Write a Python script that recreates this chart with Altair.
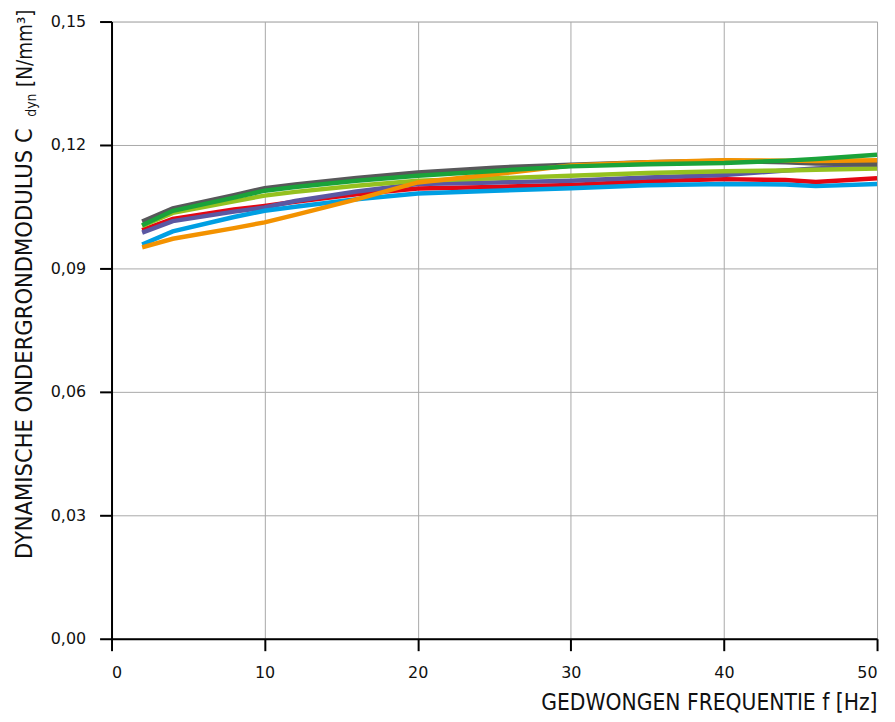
import altair as alt
import pandas as pd

freq = [2, 4, 8, 10, 12, 16, 20, 25, 30, 35, 40, 44, 46, 50]

gray   = [0.1014, 0.1046, 0.1078, 0.1095, 0.1104, 0.1120, 0.1133, 0.1145, 0.1152, 0.1158, 0.1162, 0.1158, 0.1155, 0.1153]
green  = [0.1005, 0.1040, 0.1072, 0.1089, 0.1098, 0.1113, 0.1125, 0.1137, 0.1148, 0.1153, 0.1156, 0.1162, 0.1166, 0.1176]
lime   = [0.1003, 0.1035, 0.1063, 0.1077, 0.1086, 0.1101, 0.1113, 0.1119, 0.1125, 0.1132, 0.1136, 0.1138, 0.1140, 0.1143]
purple = [0.0987, 0.1015, 0.1038, 0.1048, 0.1064, 0.1087, 0.1105, 0.1109, 0.1113, 0.1121, 0.1127, 0.1138, 0.1143, 0.1149]
red    = [0.0993, 0.1020, 0.1043, 0.1052, 0.1062, 0.1080, 0.1094, 0.1098, 0.1103, 0.1112, 0.1117, 0.1115, 0.1110, 0.1119]
blue   = [0.0958, 0.0990, 0.1025, 0.1040, 0.1050, 0.1068, 0.1082, 0.1089, 0.1095, 0.1102, 0.1105, 0.1104, 0.1100, 0.1105]
orange = [0.0951, 0.0972, 0.0998, 0.1012, 0.1030, 0.1068, 0.1109, 0.1129, 0.1150, 0.1158, 0.1163, 0.1162, 0.1161, 0.1163]

# draw order (first = bottom)
series = [
    ("red", red, "#e30613"),
    ("purple", purple, "#5b57a2"),
    ("blue", blue, "#009fe3"),
    ("lime", lime, "#95c11f"),
    ("gray", gray, "#58585a"),
    ("orange", orange, "#f39200"),
    ("green", green, "#1aa33a"),
]

x_ticks = [0, 10, 20, 30, 40, 50]
y_ticks = [0.0, 0.03, 0.06, 0.09, 0.12, 0.15]

y_title_main = "DYNAMISCHE ONDERGRONDMODULUS C"
y_title_sub = "dyn"
y_title_unit = "[N/mm\u00b3]"
x_title = "GEDWONGEN FREQUENTIE f [Hz]"

COND = "DejaVu Sans Condensed, sans-serif"
LAB = "DejaVu Sans, sans-serif"

rows = []
for name, vals, col in series:
    for f, v in zip(freq, vals):
        rows.append({"series": name, "f": f, "v": v})
df = pd.DataFrame(rows)

x_enc = alt.X("f:Q", scale=alt.Scale(domain=[0, 50], nice=False),
              axis=alt.Axis(values=x_ticks, title=x_title, titleAnchor="end",
                            titleAlign="right", titleX=769, titleY=71,
                            titleBaseline="alphabetic", titleFont=COND,
                            titleFontSize=22.7, titleFontWeight="normal",
                            titleColor="#111111",
                            labelFont=LAB, labelFontSize=16, labelColor="#111111",
                            labelPadding=14, tickSize=12, tickWidth=2,
                            tickColor="black", domainColor="black", domainWidth=2,
                            grid=True, gridColor="#a8a8a8", gridWidth=1))
y_enc = alt.Y("v:Q", scale=alt.Scale(domain=[0, 0.15], nice=False),
              axis=alt.Axis(values=y_ticks, title=None,
                            labelExpr="replace(format(datum.value, '.2f'), '.', ',')",
                            labelFont=LAB, labelFontSize=16, labelColor="#111111",
                            labelPadding=14, tickSize=12, tickWidth=2,
                            tickColor="black", domainColor="black", domainWidth=2,
                            grid=True, gridColor="#a8a8a8", gridWidth=1))

layers = []
for name, vals, col in series:
    layers.append(
        alt.Chart(df).transform_filter(alt.datum.series == name)
        .mark_line(color=col, strokeWidth=4.5, strokeCap="butt")
        .encode(x=x_enc, y=y_enc)
    )

tdf = pd.DataFrame({"main": [y_title_main], "sub": [y_title_sub], "unit": [y_title_unit]})
t_main = alt.Chart(tdf).mark_text(angle=270, align="left", baseline="alphabetic",
                                  font=COND, fontSize=23.6, color="#111111").encode(
    x=alt.value(-80), y=alt.value(540), text="main:N")
t_sub = alt.Chart(tdf).mark_text(angle=270, align="center", baseline="alphabetic",
                                 font=COND, fontSize=14, color="#111111").encode(
    x=alt.value(-76), y=alt.value(84), text="sub:N")
t_unit = alt.Chart(tdf).mark_text(angle=270, align="right", baseline="alphabetic",
                                  font=COND, fontSize=20.5, color="#111111").encode(
    x=alt.value(-80), y=alt.value(-12), text="unit:N")

chart = alt.layer(*layers, t_main, t_sub, t_unit).properties(
    width=769, height=620,
    autosize=alt.AutoSizeParams(type="none"),
    padding={"left": 104, "top": 12, "right": 10, "bottom": 74},
).configure_view(stroke="black", strokeWidth=2).configure(background="white")

chart.save("out.html", embed_options={"renderer": "svg", "actions": False})
